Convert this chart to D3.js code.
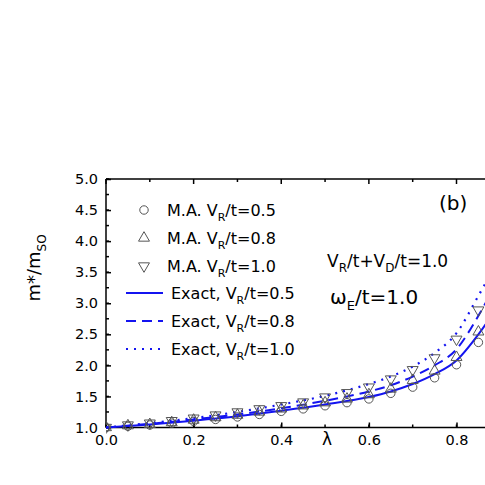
<!DOCTYPE html>
<html>
<head>
<meta charset="utf-8">
<script src="https://cdn.jsdelivr.net/npm/d3@7"></script>
<style>
  body { margin: 0; background: #fff; }
  svg { display: block; font-family: "DejaVu Sans", sans-serif; }
</style>
</head>
<body>
<div id="chart"></div>
<script>
// model approximation points (markers), every 0.05 in lambda
const maLambda = [0, 0.05, 0.1, 0.15, 0.2, 0.25, 0.3, 0.35, 0.4, 0.45, 0.5, 0.55, 0.6, 0.65, 0.7, 0.75, 0.8, 0.85];
const maVr05 = [1.0, 1.02, 1.04, 1.07, 1.10, 1.13, 1.17, 1.21, 1.26, 1.30, 1.35, 1.40, 1.46, 1.55, 1.65, 1.80, 2.01, 2.37];
const maVr08 = [1.0, 1.03, 1.05, 1.08, 1.12, 1.16, 1.20, 1.25, 1.30, 1.35, 1.40, 1.46, 1.53, 1.62, 1.76, 1.91, 2.13, 2.54];
const maVr10 = [1.0, 1.04, 1.07, 1.11, 1.15, 1.20, 1.25, 1.30, 1.35, 1.41, 1.49, 1.56, 1.65, 1.78, 1.93, 2.12, 2.42, 2.89];

// exact curves
const exLambda = [0, 0.1, 0.2, 0.3, 0.4, 0.5, 0.6, 0.65, 0.7, 0.75, 0.8, 0.85, 0.88];
const exVr05 = [1.0, 1.05, 1.11, 1.18, 1.27, 1.37, 1.49, 1.58, 1.70, 1.86, 2.08, 2.50, 2.80];
const exVr08 = [1.0, 1.06, 1.13, 1.21, 1.31, 1.43, 1.58, 1.68, 1.82, 2.00, 2.26, 2.80, 3.18];
const exVr10 = [1.0, 1.07, 1.15, 1.25, 1.37, 1.51, 1.70, 1.82, 1.98, 2.20, 2.52, 3.12, 3.50];

const xTicks = [0.0, 0.2, 0.4, 0.6, 0.8];
const yTicks = [1.0, 1.5, 2.0, 2.5, 3.0, 3.5, 4.0, 4.5, 5.0];

const width = 485;
const height = 485;
const plotLeft = 106, plotTop = 179, plotBottom = 427.5, plotRight = 485;

const xScale = d3.scaleLinear().domain([0, 0.8]).range([plotLeft, 456.5]);
const yScale = d3.scaleLinear().domain([1, 5]).range([plotBottom, plotTop]);

const svg = d3.select('#chart')
    .append('svg')
    .attr('width', width)
    .attr('height', height);

svg.append('clipPath')
    .attr('id', 'plot-clip')
    .append('rect')
    .attr('x', plotLeft)
    .attr('y', plotTop - 6)
    .attr('width', plotRight - plotLeft)
    .attr('height', plotBottom - plotTop + 12);

// axes (ticks pointing inward)
const minorX = d3.range(0, 0.9, 0.1);
const minorY = d3.range(1, 5.01, 0.25);

const xAxis = d3.axisBottom(xScale).tickValues(xTicks).tickFormat(d3.format('.1f')).tickSizeInner(-5).tickSizeOuter(0).tickPadding(7);
const yAxis = d3.axisLeft(yScale).tickValues(yTicks).tickFormat(d3.format('.1f')).tickSizeInner(-5).tickSizeOuter(0).tickPadding(8);

const gx = svg.append('g').attr('transform', `translate(0,${plotBottom})`).call(xAxis);
const gy = svg.append('g').attr('transform', `translate(${plotLeft},0)`).call(yAxis);

[gx, gy].forEach(g => {
    g.select('.domain').remove();
    g.selectAll('.tick line').attr('stroke', '#000').attr('stroke-width', 1.5);
    g.selectAll('.tick text').attr('fill', '#000').style('font-size', '14.5px').style('font-family', '"DejaVu Sans", sans-serif');
});

// minor ticks
svg.append('g').selectAll('line').data(minorX).enter().append('line')
    .attr('x1', d => xScale(d)).attr('x2', d => xScale(d))
    .attr('y1', plotBottom).attr('y2', plotBottom - 3)
    .attr('stroke', '#000').attr('stroke-width', 1.5);
svg.append('g').selectAll('line').data(minorX).enter().append('line')
    .attr('x1', d => xScale(d)).attr('x2', d => xScale(d))
    .attr('y1', plotTop).attr('y2', d => plotTop + (Math.round(d * 10) % 2 === 0 ? 5 : 3))
    .attr('stroke', '#000').attr('stroke-width', 1.5);
svg.append('g').selectAll('line').data(minorY).enter().append('line')
    .attr('x1', plotLeft).attr('x2', plotLeft + 3)
    .attr('y1', d => yScale(d)).attr('y2', d => yScale(d))
    .attr('stroke', '#000').attr('stroke-width', 1.5);

// frame lines
svg.append('line').attr('x1', plotLeft).attr('x2', plotRight).attr('y1', plotBottom).attr('y2', plotBottom)
    .attr('stroke', '#000').attr('stroke-width', 1.5);
svg.append('line').attr('x1', plotLeft).attr('x2', plotRight).attr('y1', plotTop).attr('y2', plotTop)
    .attr('stroke', '#000').attr('stroke-width', 1.5);
svg.append('line').attr('x1', plotLeft).attr('x2', plotLeft).attr('y1', plotTop).attr('y2', plotBottom)
    .attr('stroke', '#000').attr('stroke-width', 1.5);

// exact curves
const blue = '#1414f0';
const lineGen = d3.line()
    .x(d => xScale(d[0]))
    .y(d => yScale(d[1]))
    .curve(d3.curveMonotoneX);

const exact = [
    { vals: exVr05, dash: null, width: 2 },
    { vals: exVr08, dash: '10,6', width: 2 },
    { vals: exVr10, dash: '2,6', width: 2.2 }
];

const plot = svg.append('g').attr('clip-path', 'url(#plot-clip)');

exact.forEach(s => {
    plot.append('path')
        .datum(exLambda.map((l, i) => [l, s.vals[i]]))
        .attr('d', lineGen)
        .attr('fill', 'none')
        .attr('stroke', blue)
        .attr('stroke-width', s.width)
        .attr('stroke-dasharray', s.dash);
});

// markers
const symCircle = d3.symbol().type(d3.symbolCircle).size(56);
const symTri = d3.symbol().type(d3.symbolTriangle).size(52);

const markers = [
    { vals: maVr05, sym: symCircle, rot: 0 },
    { vals: maVr08, sym: symTri, rot: 0 },
    { vals: maVr10, sym: symTri, rot: 180 }
];

markers.forEach(m => {
    plot.append('g').selectAll('path')
        .data(maLambda.map((l, i) => [l, m.vals[i]]))
        .enter()
        .append('path')
        .attr('d', m.sym())
        .attr('transform', d => `translate(${xScale(d[0])},${yScale(d[1])}) rotate(${m.rot})`)
        .attr('fill', 'none')
        .attr('stroke', '#555')
        .attr('stroke-width', 1);
});

// legend
const legendMarkers = [
    { y: 210, sym: symCircle, rot: 0, label: '0.5' },
    { y: 238, sym: symTri, rot: 0, label: '0.8' },
    { y: 266, sym: symTri, rot: 180, label: '1.0' }
];
legendMarkers.forEach(l => {
    svg.append('path')
        .attr('d', l.sym())
        .attr('transform', `translate(144,${l.y}) rotate(${l.rot})`)
        .attr('fill', 'none')
        .attr('stroke', '#555')
        .attr('stroke-width', 1);
    const t = svg.append('text')
        .attr('x', 167).attr('y', l.y + 6)
        .style('font-size', '16px');
    t.append('tspan').text('M.A. V');
    t.append('tspan').attr('dy', 5).style('font-size', '11px').text('R');
    t.append('tspan').attr('dy', -5).text('/t=' + l.label);
});

const legendLines = [
    { y: 293, dash: null, label: '0.5' },
    { y: 321, dash: '10,6', label: '0.8' },
    { y: 349, dash: '2,6', label: '1.0' }
];
legendLines.forEach(l => {
    svg.append('line')
        .attr('x1', 126).attr('x2', 163)
        .attr('y1', l.y).attr('y2', l.y)
        .attr('stroke', blue)
        .attr('stroke-width', 2)
        .attr('stroke-dasharray', l.dash);
    const t = svg.append('text')
        .attr('x', 171).attr('y', l.y + 6)
        .style('font-size', '16px');
    t.append('tspan').text('Exact, V');
    t.append('tspan').attr('dy', 5).style('font-size', '11px').text('R');
    t.append('tspan').attr('dy', -5).text('/t=' + l.label);
});

// annotations
svg.append('text')
    .attr('x', 439).attr('y', 210)
    .style('font-size', '20px')
    .text('(b)');

const ann1 = svg.append('text')
    .attr('x', 327).attr('y', 267)
    .style('font-size', '17px');
ann1.append('tspan').text('V');
ann1.append('tspan').attr('dy', 5).style('font-size', '12px').text('R');
ann1.append('tspan').attr('dy', -5).text('/t+V');
ann1.append('tspan').attr('dy', 5).style('font-size', '12px').text('D');
ann1.append('tspan').attr('dy', -5).text('/t=1.0');

const ann2 = svg.append('text')
    .attr('x', 330).attr('y', 304)
    .style('font-size', '20px');
ann2.append('tspan').text('ω');
ann2.append('tspan').attr('dy', 6).style('font-size', '13px').text('E');
ann2.append('tspan').attr('dy', -6).text('/t=1.0');

// axis titles
svg.append('text')
    .attr('x', 327).attr('y', 445)
    .attr('text-anchor', 'middle')
    .style('font-size', '17px')
    .text('λ');

const yTitle = svg.append('text')
    .attr('transform', 'translate(40,268) rotate(-90)')
    .attr('text-anchor', 'middle')
    .style('font-size', '18px');
yTitle.append('tspan').text('m*/m');
yTitle.append('tspan').attr('dy', 6).style('font-size', '12px').text('SO');
</script>
</body>
</html>
